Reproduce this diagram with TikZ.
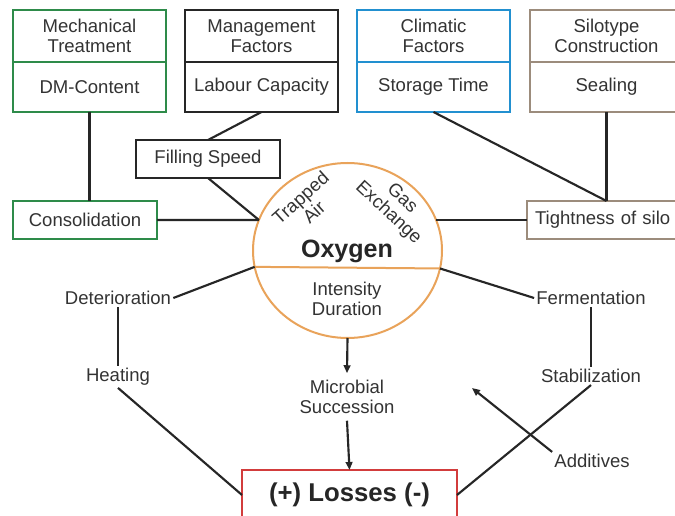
\documentclass[tikz,border=0pt]{standalone}
\usepackage{fontspec}
\setmainfont{Liberation Sans}
\usepackage{xcolor}
\usetikzlibrary{positioning,shapes.geometric,arrows.meta}

\definecolor{mechgreen}{HTML}{2E8B4A}
\definecolor{climblue}{HTML}{2290D0}
\definecolor{silobrown}{HTML}{9C8C7C}
\definecolor{oxyorange}{HTML}{E9A35A}
\definecolor{lossred}{HTML}{D23C3C}
\definecolor{txtgray}{HTML}{333333}

\tikzset{
  txt/.style={font=\fontsize{13.9}{15}\selectfont, text=txtgray, align=center},
  head/.style={txt, draw, line width=1.8pt, outer sep=0pt, inner sep=0pt,
    minimum width=114.75pt, minimum height=39pt},
  low/.style={head, minimum height=37.5pt},
  factor/.style={txt, draw, line width=1.8pt, outer sep=0pt, inner sep=0pt,
    minimum width=108pt, minimum height=28.5pt},
  lbl/.style={txt, inner sep=1.5pt},
  link/.style={line width=1.6pt, draw=black!85},
  arr/.style={link, -{Triangle[length=6pt,width=5pt]}},
}

\begin{document}
\begin{tikzpicture}[x=0.75pt, y=-0.75pt]
  \useasboundingbox[fill=white] (0,0) rectangle (675,516);
  \clip (0,0) rectangle (675,516);
  % Define nodes
  \node[head, draw=mechgreen, anchor=north west] (mech) at (13,10) {Mechanical\\Treatment};
  \node[low, draw=mechgreen, below=0pt of mech] (dm) {DM-Content};
  \node[head, draw=black!85, anchor=north west] (mgmt) at (185,10) {Management\\Factors};
  \node[low, draw=black!85, below=0pt of mgmt] (labour) {Labour Capacity};
  \node[head, draw=climblue, anchor=north west] (clim) at (357,10) {Climatic\\Factors};
  \node[low, draw=climblue, below=0pt of clim] (store) {Storage Time};
  \node[head, draw=silobrown, anchor=north west] (silo) at (530,10) {Silotype\\Construction};
  \node[low, draw=silobrown, below=0pt of silo] (seal) {Sealing};

  \node[factor, draw=black!85] (fill) at (208,159) {Filling Speed};
  \node[factor, draw=mechgreen] (cons) at (85,220) {Consolidation};
  \node[factor, draw=silobrown, anchor=west, minimum width=122pt,
    text width=110pt, align=left] (tight) at (527,220) {Tightness of silo};

  % oxygen
  \node[ellipse, draw=oxyorange, line width=1.5pt, outer sep=0pt,
    minimum width=141.75pt, minimum height=131.25pt] (oxy) at (347.5,250.5) {};
  \draw[oxyorange, line width=1.5pt] (oxy.190.7) -- (oxy.349.3);
  \node[lbl, rotate=42] (trap) at (307,205) {Trapped\\Air};
  \node[lbl, rotate=-43] (gas) at (395,206) {Gas\\Exchange};
  \node[lbl, font=\bfseries\fontsize{18.8}{20}\selectfont, text=black!85] (oxylbl) at (347,251) {Oxygen};
  \node[lbl] (intens) at (347,299) {Intensity\\Duration};

  \node[lbl] (det) at (118,298) {Deterioration};
  \node[lbl] (heat) at (118,377) {Heating};
  \node[lbl] (ferm) at (591,298) {Fermentation};
  \node[lbl] (stab) at (591,376) {Stabilization};
  \node[lbl] (add) at (592,461) {Additives};
  \node[lbl, inner ysep=5pt] (micro) at (347,397) {Microbial\\Succession};
  \coordinate (addtip) at (472,388);

  \node[txt, draw=lossred, line width=1.8pt, outer sep=0pt, minimum width=161.25pt,
    minimum height=37.5pt, font=\bfseries\fontsize{19.3}{20}\selectfont,
    text=black!85] (loss) at (349.5,495) {(+) Losses (-)};

  % Connect
  \draw[link] (dm.south) -- (dm.south |- cons.north);
  \draw[link] (labour.south) -- (fill.north);
  \draw[link] (fill.south) -- (oxy.161);
  \draw[link] (cons.east) -- (oxy.161);
  \draw[link] (store.south) -- (seal.south |- tight.north);
  \draw[link] (seal.south) -- (seal.south |- tight.north);
  \draw[link] (oxy.19) -- (oxy.19 -| tight.west);
  \draw[link] (det.east) -- (oxy.190.7);
  \draw[link] (det.south) -- (heat.north);
  \draw[link] (heat.south) -- (loss.west);
  \draw[link] (ferm.west) -- (oxy.349.3);
  \draw[link] (ferm.south) -- (stab.north);
  \draw[link] (stab.south) -- (loss.east);
  \draw[arr] (oxy.south) -- (micro.north);
  \draw[arr] (micro.south) -- (loss.north);
  \draw[arr] (add.north west) -- (addtip);
\end{tikzpicture}
\end{document}
